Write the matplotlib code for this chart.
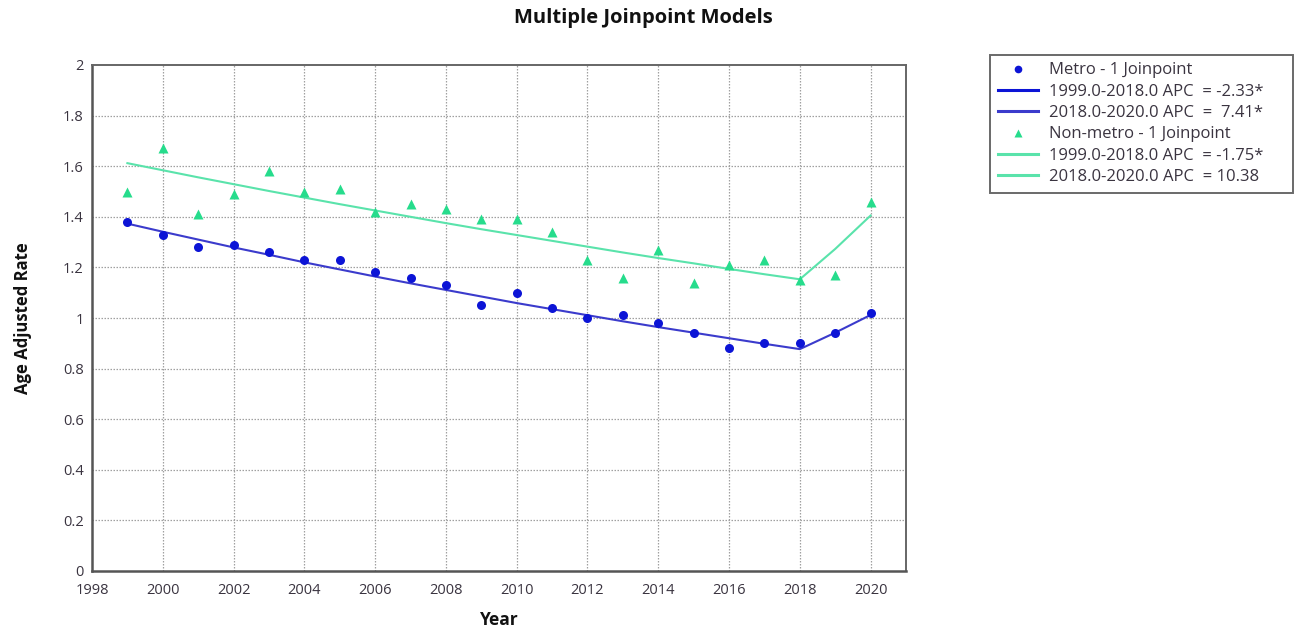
import matplotlib
matplotlib.use("Agg")
import matplotlib.pyplot as plt
from matplotlib.lines import Line2D

# ── data ─────────────────────────────────────────────────────────────────────
years = list(range(1999, 2021))

metro_obs = [1.38, 1.33, 1.28, 1.29, 1.26, 1.23, 1.23, 1.18, 1.16, 1.13, 1.05,
             1.10, 1.04, 1.00, 1.01, 0.98, 0.94, 0.88, 0.90, 0.90, 0.94, 1.02]
nonmetro_obs = [1.50, 1.67, 1.41, 1.49, 1.58, 1.50, 1.51, 1.42, 1.45, 1.43, 1.39,
                1.39, 1.34, 1.23, 1.16, 1.27, 1.14, 1.21, 1.23, 1.15, 1.17, 1.46]

# modelled (joinpoint) values per year
metro_fit = [1.373, 1.341, 1.310, 1.279, 1.250, 1.220, 1.192, 1.164, 1.137, 1.111,
             1.085, 1.059, 1.035, 1.011, 0.987, 0.964, 0.942, 0.920, 0.898, 0.877,
             0.942, 1.012]
nonmetro_fit = [1.612, 1.584, 1.556, 1.529, 1.502, 1.476, 1.450, 1.425, 1.400, 1.375,
                1.351, 1.328, 1.305, 1.282, 1.259, 1.237, 1.216, 1.194, 1.173, 1.153,
                1.273, 1.405]

legend_labels = [
    "Metro - 1 Joinpoint",
    "1999.0-2018.0 APC  = -2.33*",
    "2018.0-2020.0 APC  =  7.41*",
    "Non-metro - 1 Joinpoint",
    "1999.0-2018.0 APC  = -1.75*",
    "2018.0-2020.0 APC  = 10.38",
]

x_ticks = list(range(1998, 2021, 2))
y_ticks = [0, 0.2, 0.4, 0.6, 0.8, 1, 1.2, 1.4, 1.6, 1.8, 2]
y_tick_labels = ["0", "0.2", "0.4", "0.6", "0.8", "1", "1.2", "1.4", "1.6", "1.8", "2"]

# ── styling ──────────────────────────────────────────────────────────────────
METRO_PT = "#0c14d6"
METRO_LN = "#3b3bcc"
NONM_PT = "#26dc8c"
NONM_LN = "#5ae3ab"
TEXT = "#3a3440"
GRID = "#a0a0a0"

plt.rcParams["font.family"] = ["Open Sans", "DejaVu Sans"]

fig = plt.figure(figsize=(12.99, 6.28), dpi=100, facecolor="white")
ax = fig.add_axes([92 / 1299, 1 - 571 / 628, (906 - 92) / 1299, (571 - 65) / 628])

ax.plot(years, metro_fit, color=METRO_LN, lw=1.5, zorder=2)
ax.plot(years, nonmetro_fit, color=NONM_LN, lw=1.5, zorder=2)
ax.plot(years, metro_obs, "o", color=METRO_PT, ms=6.5, mec="none", zorder=3)
ax.plot(years, nonmetro_obs, "^", color=NONM_PT, ms=6.5, mec="none", zorder=3)

ax.set_xlim(1998, 2021)
ax.set_ylim(0, 2)
ax.set_xticks(x_ticks)
ax.set_yticks(y_ticks)
ax.set_yticklabels(y_tick_labels)
ax.tick_params(length=0, labelsize=10.5, colors=TEXT)
ax.tick_params(axis="x", pad=9)
ax.tick_params(axis="y", pad=6)

# grid: horizontal every 0.2, vertical every two years from 2000
for yv in y_ticks[1:-1]:
    ax.axhline(yv, color=GRID, lw=0.9, ls=(0, (1.2, 1.2)), zorder=1)
for xv in x_ticks[1:]:
    ax.axvline(xv, color=GRID, lw=0.9, ls=(0, (1.2, 1.2)), zorder=1)

for side in ("left", "bottom"):
    ax.spines[side].set_color("#555555")
    ax.spines[side].set_linewidth(1.8)
for side in ("top", "right"):
    ax.spines[side].set_color("#666666")
    ax.spines[side].set_linewidth(1.4)

ax.set_xlabel("Year", fontsize=12.5, fontweight="bold", color="#111111", labelpad=9)
ax.set_ylabel("Age Adjusted Rate", fontsize=12, fontweight="bold", color="#111111",
              labelpad=22, fontstretch="condensed")

fig.text(643 / 1299, 1 - 18 / 628, "Multiple Joinpoint Models", ha="center", va="center",
         fontsize=14.5, fontweight="bold", color="#111111")

handles = [
    Line2D([], [], ls="none", marker="o", color=METRO_PT, ms=5.5, mec="none"),
    Line2D([], [], color=METRO_PT, lw=2.2),
    Line2D([], [], color=METRO_LN, lw=2.2),
    Line2D([], [], ls="none", marker="^", color=NONM_PT, ms=5.5, mec="none"),
    Line2D([], [], color=NONM_LN, lw=2.2),
    Line2D([], [], color=NONM_LN, lw=2.2),
]
leg = fig.legend(handles, legend_labels, loc="upper left", mode="expand",
                 bbox_to_anchor=(990 / 1299, 1 - 195 / 628, 303 / 1299, 140 / 628),
                 fontsize=12, frameon=True, fancybox=False, handlelength=2.4,
                 handletextpad=0.7, labelspacing=0.32, borderpad=0.45,
                 borderaxespad=0, labelcolor=TEXT)
leg.get_frame().set_edgecolor("#444444")
leg.get_frame().set_linewidth(1.4)

fig.savefig("out.png", dpi=100, facecolor="white")
